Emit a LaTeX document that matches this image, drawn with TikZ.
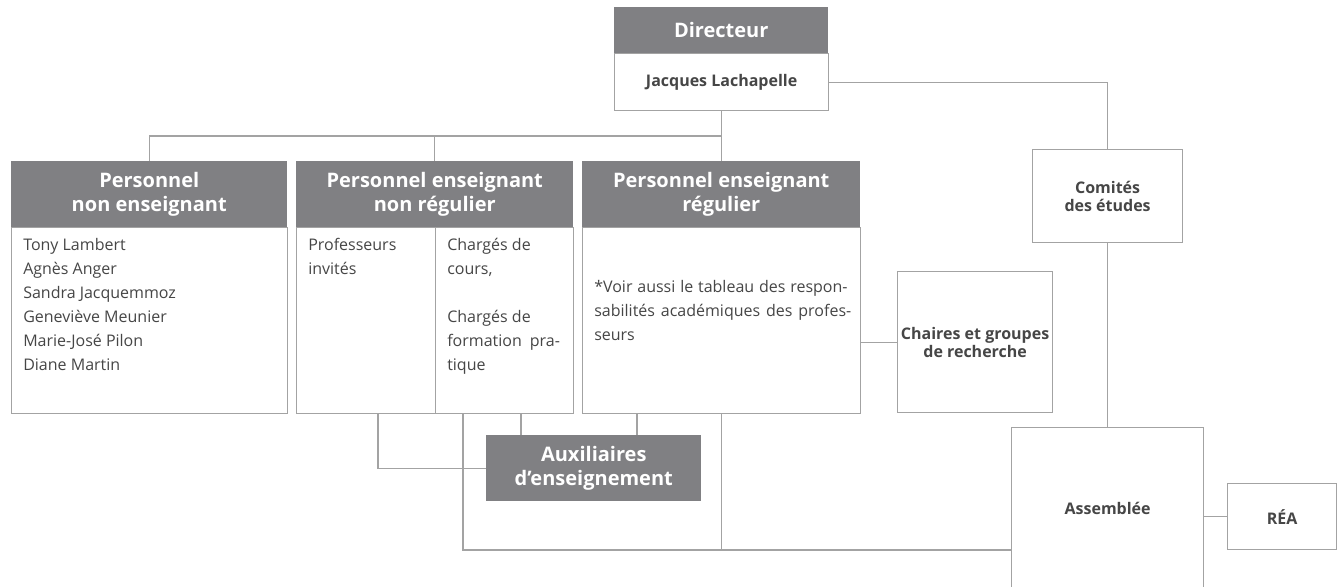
\documentclass[tikz,border=0pt]{standalone}
\usepackage{fontspec}
\setmainfont{Open Sans}
\definecolor{hdrgray}{RGB}{128,128,131}
\definecolor{inkgray}{RGB}{70,70,70}
\definecolor{linegray}{RGB}{163,163,163}
\tikzset{
  hdr/.style={fill=hdrgray, text=white, anchor=north west, inner sep=0pt, align=center, font=\fontsize{15}{18}\selectfont\bfseries},
  cell/.style={draw=linegray, fill=white, line width=0.9pt, anchor=north west, inner sep=0pt, align=center, text=inkgray, font=\fontsize{12}{13.5}\selectfont\bfseries},
  body/.style={anchor=north west, inner sep=0pt, align=left, text=inkgray, font=\fontsize{12}{18}\selectfont},
  link/.style={draw=linegray, line width=0.9pt},
}
\begin{document}
\begin{tikzpicture}[x=0.75pt,y=0.75pt,yscale=-1,xscale=1]
\useasboundingbox (0,0) rectangle (1338,586);

% Directeur
\node [hdr, minimum width=160.5pt, minimum height=34.5pt] (dir) at (614,7) {Directeur};
\node [cell, minimum width=160.5pt, minimum height=42.75pt] (dirname) at (614,53) {Jacques Lachapelle};

% Personnel non enseignant
\node [hdr, minimum width=207pt, minimum height=49.5pt] (nonens) at (11,161) {Personnel\\non enseignant};
\node [cell, minimum width=207pt, minimum height=139.5pt] (nonensbody) at (11,227) {};
\node [body] (nonenslist) at (23,238) {Tony Lambert\\Agnès Anger\\Sandra Jacquemmoz\\Geneviève Meunier\\Marie-José Pilon\\Diane Martin};

% Personnel enseignant non regulier
\node [hdr, minimum width=207.75pt, minimum height=49.5pt] (nonreg) at (296,161) {Personnel enseignant\\non régulier};
\node [cell, minimum width=207.75pt, minimum height=139.5pt] (nonregbody) at (296,227) {};
\node [body] (invites) at (308,238) {Professeurs\\invités};
\node [body] (charges) at (447,238) {Chargés de\\cours,\\[18pt]Chargés de\\formation\enspace pra-\\tique};

% Personnel enseignant regulier
\node [hdr, minimum width=208.5pt, minimum height=49.5pt] (reg) at (582,161) {Personnel enseignant\\régulier};
\node [cell, minimum width=208.5pt, minimum height=139.5pt] (regbody) at (582,227) {};
\node [body] (regnote) at (594,280) {\spaceskip=1.6pt plus 8pt%
  \makebox[190pt][s]{*Voir aussi le tableau des respon-}\\
  \makebox[192.75pt][s]{sabilités académiques des profes-}\\seurs};

% Right side
\node [cell, minimum width=112.5pt, minimum height=69.75pt] (comites) at (1032,149) {Comités\\des études};
\node [cell, minimum width=116.25pt, minimum height=105.75pt] (chaires) at (897,271) {Chaires et groupes\\de recherche};
\node [cell, minimum width=144pt, minimum height=121.5pt] (assemblee) at (1011,427) {Assemblée};
\node [cell, minimum width=81.75pt, minimum height=49.5pt] (rea) at (1227,483) {RÉA};
\node [hdr, minimum width=161.25pt, minimum height=49.5pt] (aux) at (486,435) {Auxiliaires\\d’enseignement};

% tap points
\coordinate (bus) at (721,136);
\coordinate (tapa) at (378,413);
\coordinate (tapb) at (463,413);
\coordinate (tapc) at (521,413);
\coordinate (tapd) at (637,413);
\coordinate (asmin) at (1011,550);

% Straight Lines
\draw [link] (dirname.east) -| (comites.north);
\draw [link] (dirname.south) -- (dirname.south |- reg.north);
\draw [link] (nonens.north) |- (bus);
\draw [link] (nonreg.north) -- (nonreg.north |- bus);
\draw [link] (nonregbody.north) -- (nonregbody.south);
\draw [link] (chaires.west) -- (chaires.west -| regbody.east);
\draw [link] (comites.south) -- (assemblee.north);
\draw [link] (rea.west) -- (rea.west -| assemblee.east);
\draw [link] (tapa) |- (aux.west);
\draw [link] (tapb) |- (asmin);
\draw [link] (regbody.south) -- (regbody.south |- asmin);
\draw [link] (tapc) -- (tapc |- aux.north);
\draw [link] (tapd) -- (tapd |- aux.north);

\end{tikzpicture}
\end{document}
